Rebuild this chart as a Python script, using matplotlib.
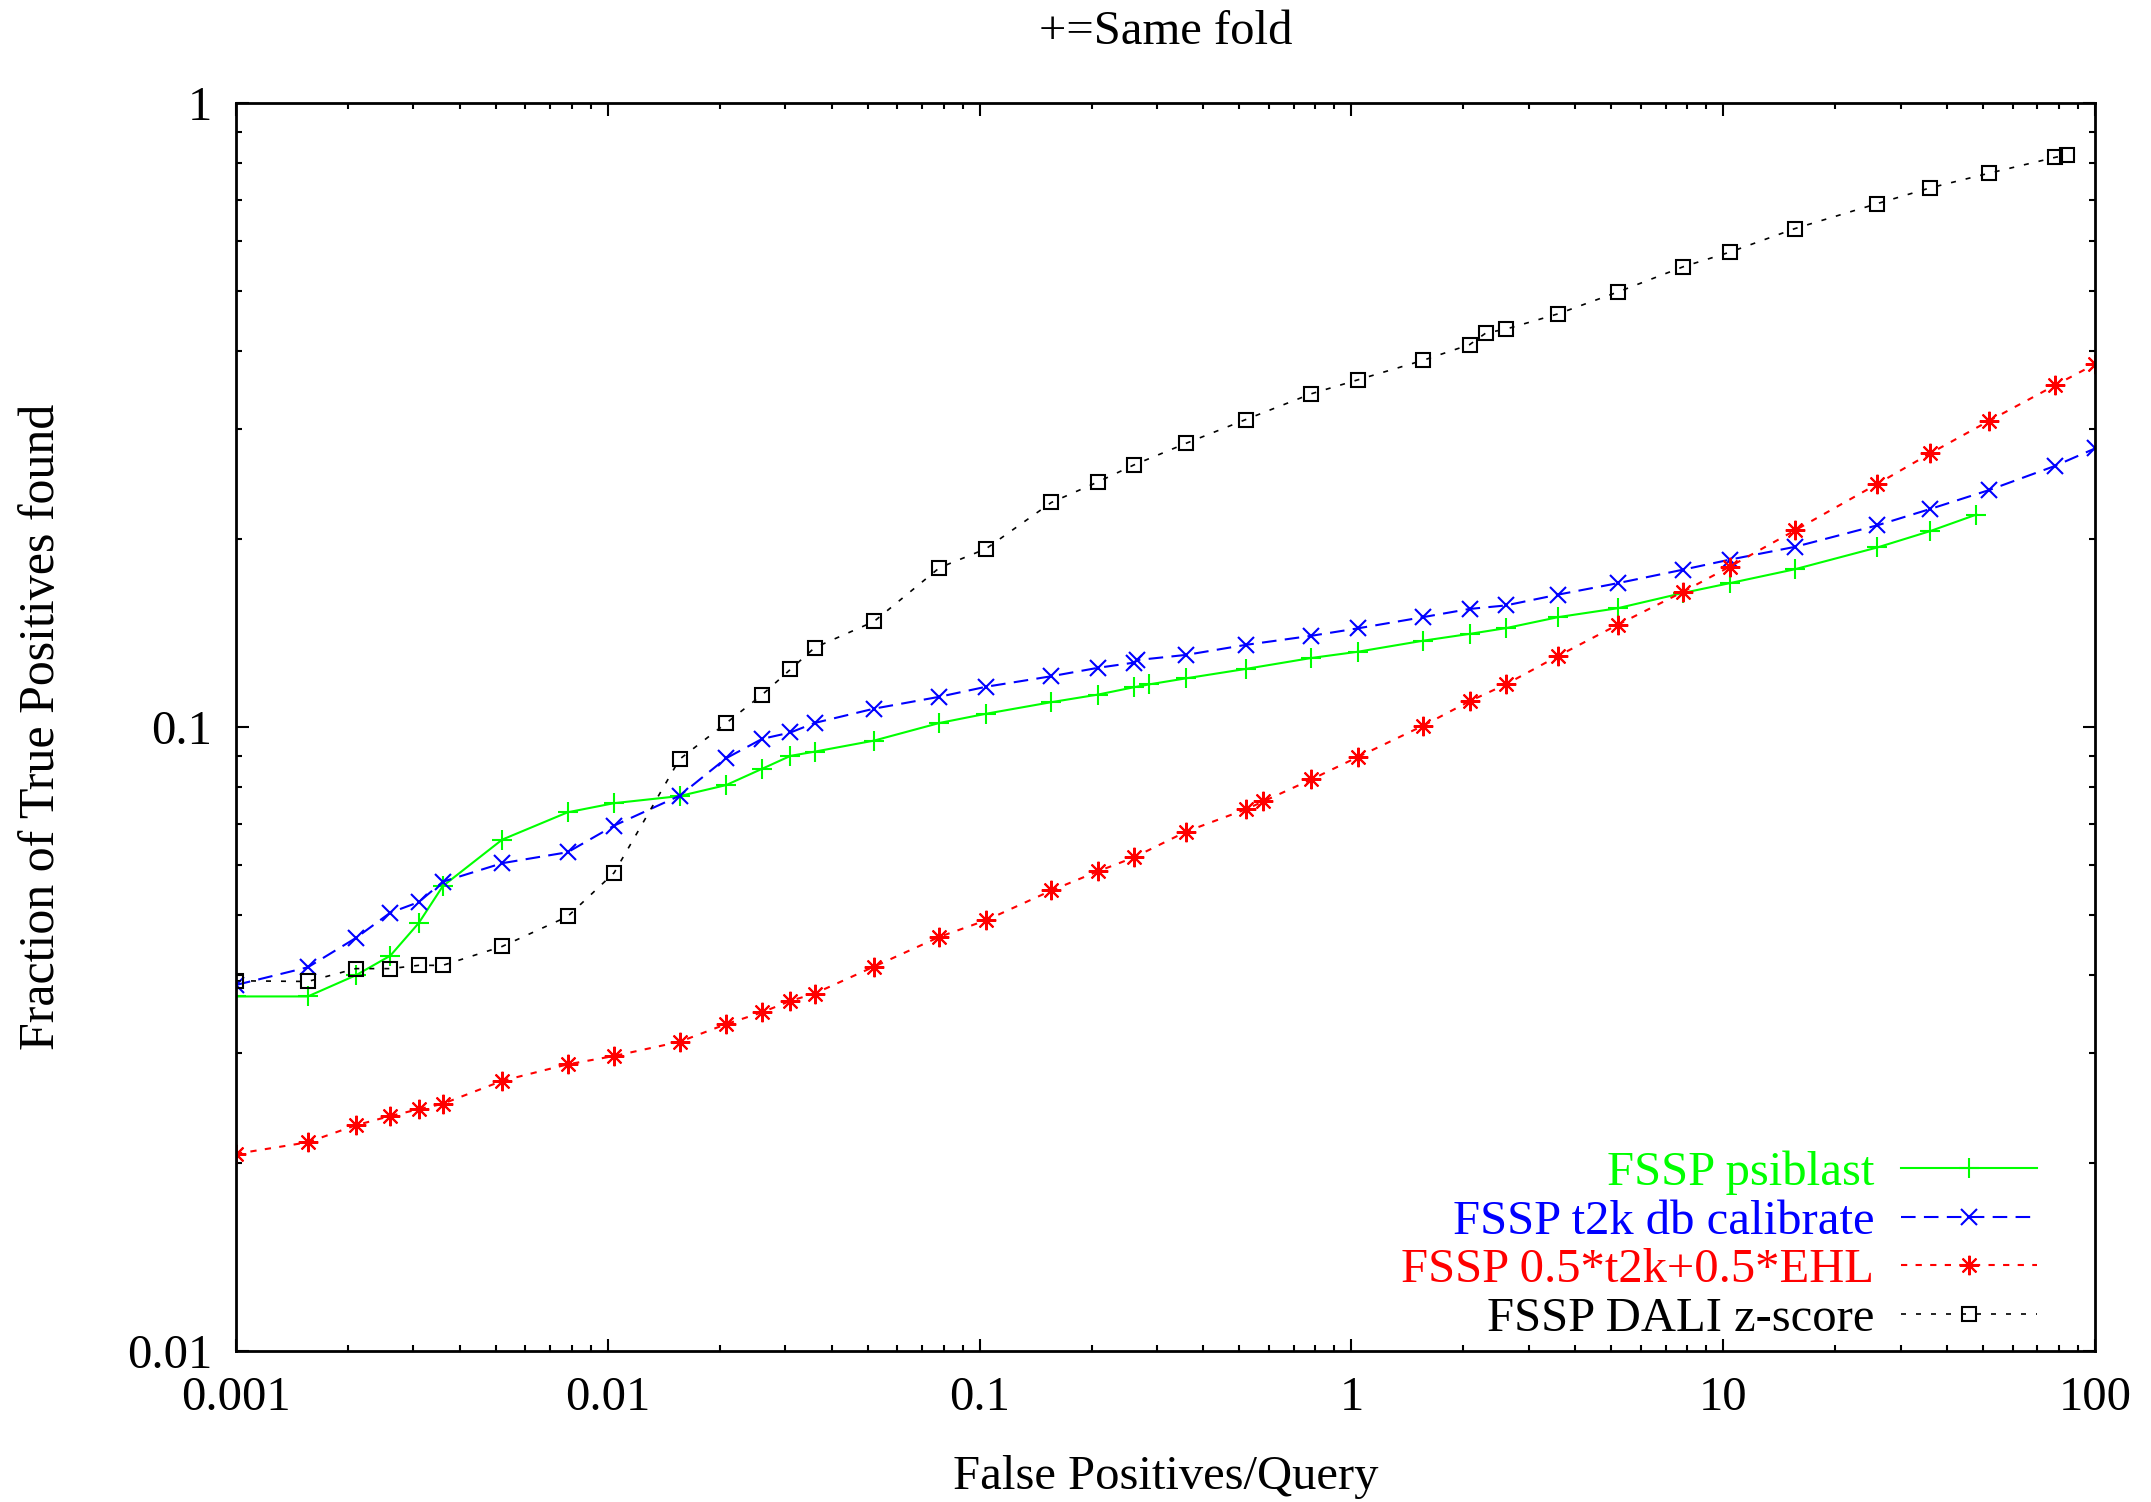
import matplotlib
matplotlib.use("Agg")
import matplotlib.pyplot as plt
from matplotlib.ticker import FixedLocator, LogLocator, NullFormatter, FuncFormatter

# False positives / query (x) and fraction of true positives found (y)
psiblast_x = [0.001, 0.00156, 0.0021, 0.0026, 0.0031, 0.0036, 0.0052, 0.0078, 0.0104, 0.0156,
              0.0208, 0.026, 0.031, 0.036, 0.052, 0.078, 0.104, 0.156, 0.208, 0.26,
              0.285, 0.36, 0.52, 0.78, 1.04, 1.56, 2.08, 2.6, 3.6, 5.2,
              7.8, 10.4, 15.6, 26, 36, 48]
psiblast_y = [0.037, 0.037, 0.040, 0.043, 0.0485, 0.0556, 0.066, 0.073, 0.0755, 0.0775,
              0.0807, 0.0857, 0.0899, 0.0913, 0.0951, 0.1015, 0.105, 0.1096, 0.1127, 0.1158,
              0.117, 0.1197, 0.1239, 0.129, 0.132, 0.1375, 0.141, 0.144, 0.150, 0.155,
              0.164, 0.170, 0.179, 0.194, 0.206, 0.219]

t2k_x = [0.001, 0.00156, 0.0021, 0.0026, 0.0031, 0.0036, 0.0052, 0.0078, 0.0104, 0.0156,
         0.0208, 0.026, 0.031, 0.036, 0.052, 0.078, 0.104, 0.156, 0.208, 0.26,
         0.265, 0.36, 0.52, 0.78, 1.04, 1.56, 2.08, 2.6, 3.6, 5.2,
         7.8, 10.4, 15.6, 26, 36, 52, 78, 100]
t2k_y = [0.0386, 0.0412, 0.0459, 0.0504, 0.0524, 0.0565, 0.0605, 0.063, 0.0695, 0.0776,
         0.0891, 0.0957, 0.098, 0.1015, 0.107, 0.1118, 0.116, 0.1206, 0.1244, 0.1268,
         0.128, 0.1305, 0.1354, 0.140, 0.1439, 0.150, 0.1546, 0.1566, 0.163, 0.170,
         0.1787, 0.1854, 0.1944, 0.2105, 0.2235, 0.2398, 0.262, 0.2795]

mix_x = [0.001, 0.00156, 0.0021, 0.0026, 0.0031, 0.0036, 0.0052, 0.0078, 0.0104, 0.0156,
         0.0208, 0.026, 0.031, 0.036, 0.052, 0.078, 0.104, 0.156, 0.208, 0.26,
         0.36, 0.52, 0.58, 0.78, 1.04, 1.56, 2.08, 2.6, 3.6, 5.2,
         7.8, 10.4, 15.6, 26, 36, 52, 78, 100]
mix_y = [0.0207, 0.0216, 0.0230, 0.0238, 0.0244, 0.0249, 0.0271, 0.0288, 0.0297, 0.0313,
         0.0334, 0.0349, 0.0364, 0.0374, 0.0413, 0.0461, 0.049, 0.0547, 0.0587, 0.0618,
         0.068, 0.0738, 0.076, 0.0824, 0.0895, 0.1005, 0.110, 0.117, 0.130, 0.1458,
         0.1647, 0.1806, 0.2066, 0.2453, 0.2744, 0.3097, 0.3527, 0.3815]

dali_x = [0.001, 0.00156, 0.0021, 0.0026, 0.0031, 0.0036, 0.0052, 0.0078, 0.0104, 0.0156,
          0.0208, 0.026, 0.031, 0.036, 0.052, 0.078, 0.104, 0.156, 0.208, 0.26,
          0.36, 0.52, 0.78, 1.04, 1.56, 2.08, 2.3, 2.6, 3.6, 5.2,
          7.8, 10.4, 15.6, 26, 36, 52, 78, 84]
dali_y = [0.0392, 0.0391, 0.041, 0.041, 0.0415, 0.0415, 0.0445, 0.0497, 0.0584, 0.0888,
          0.1014, 0.1126, 0.1237, 0.134, 0.1476, 0.180, 0.193, 0.229, 0.247, 0.263,
          0.285, 0.311, 0.342, 0.360, 0.387, 0.410, 0.428, 0.434, 0.4594, 0.4977,
          0.5464, 0.5765, 0.6292, 0.690, 0.731, 0.772, 0.818, 0.826]

labels = ["FSSP psiblast", "FSSP t2k db calibrate", "FSSP 0.5*t2k+0.5*EHL", "FSSP DALI z-score"]

plt.rcParams["font.family"] = ["Liberation Serif", "DejaVu Serif"]
plt.rcParams["font.size"] = 35

W, H = 2151, 1502
fig = plt.figure(figsize=(W / 100, H / 100), dpi=100)
ax = fig.add_axes([236 / W, 1 - 1351 / H, (2095 - 236) / W, 1248 / H])

ax.plot(psiblast_x, psiblast_y, color="#00ff00", lw=1.5, ls="-",
        marker="+", ms=14, mew=1.5, label=labels[0])
ax.plot(t2k_x, t2k_y, color="#0000ff", lw=1.5, ls=(0, (7, 4)),
        marker="x", ms=11, mew=1.5, label=labels[1])
ax.plot(mix_x, mix_y, color="#ff0000", lw=1.5, ls=(0, (3, 4)),
        marker=(8, 2, 0), ms=14, mew=1.5, label=labels[2])
ax.plot(dali_x, dali_y, color="black", lw=1.2, ls=(0, (3, 6)),
        marker="s", ms=10, mew=1.5, mfc="none", label=labels[3])

ax.set_xscale("log")
ax.set_yscale("log")
ax.set_xlim(0.001, 100)
ax.set_ylim(0.01, 1)

fmt = FuncFormatter(lambda v, p: "%g" % v)
ax.xaxis.set_major_locator(FixedLocator([0.001, 0.01, 0.1, 1, 10, 100]))
ax.yaxis.set_major_locator(FixedLocator([0.01, 0.1, 1]))
ax.xaxis.set_minor_locator(LogLocator(base=10, subs=range(2, 10), numticks=20))
ax.yaxis.set_minor_locator(LogLocator(base=10, subs=range(2, 10), numticks=20))
ax.xaxis.set_major_formatter(fmt)
ax.yaxis.set_major_formatter(fmt)
ax.xaxis.set_minor_formatter(NullFormatter())
ax.yaxis.set_minor_formatter(NullFormatter())

ax.tick_params(which="both", direction="in", top=True, right=True, width=1.5)
ax.tick_params(which="major", length=9)
ax.tick_params(which="minor", length=4.5)
ax.tick_params(axis="x", which="major", pad=18)
ax.tick_params(axis="y", which="major", pad=17)
for s in ax.spines.values():
    s.set_linewidth(2)

cx = (236 + 2095) / 2 / W
fig.text(cx, 1 - 32 / H, "+=Same fold", ha="center", va="center")
fig.text(cx, 1 - 1477 / H, "False Positives/Query", ha="center", va="center")
fig.text(42 / W, 1 - 727 / H, "Fraction of True Positives found",
         ha="center", va="center", rotation=90, fontsize=36)

leg = ax.legend(loc="lower right", bbox_to_anchor=(0.9688, 0.0084), frameon=False,
                markerfirst=False, numpoints=1, handlelength=2.8, labelspacing=0.09,
                handletextpad=0.55, labelcolor="linecolor", borderaxespad=0.0,
                borderpad=0.0, fontsize=35)

fig.savefig("out.png", dpi=100)
